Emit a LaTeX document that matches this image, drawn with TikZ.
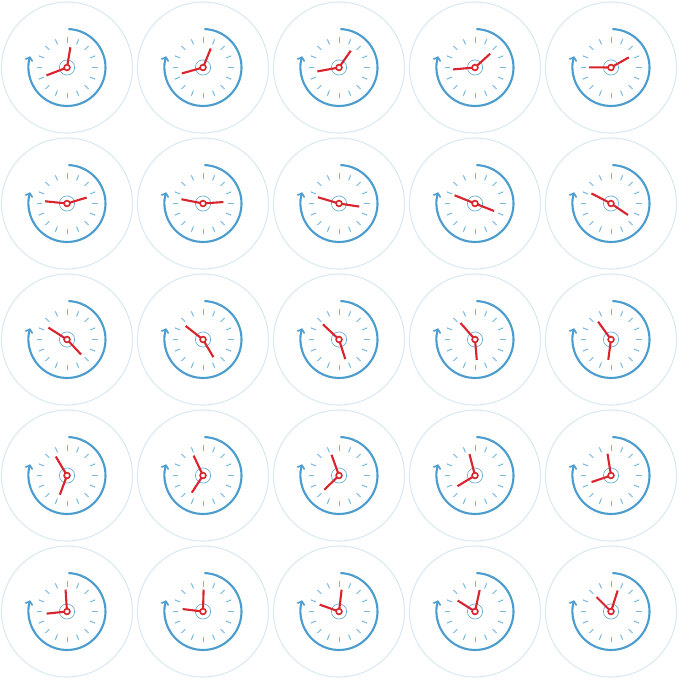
\documentclass[tikz,border=0pt]{standalone}
\usetikzlibrary{arrows.meta}
\definecolor{arcblue}{HTML}{4A9DCE}
\definecolor{tickblue}{HTML}{7AB8DE}
\definecolor{ringblue}{HTML}{DAEAF4}
\definecolor{innerblue}{HTML}{5FA5D2}
\definecolor{handred}{HTML}{D9232D}
\begin{document}
\begin{tikzpicture}[x=1pt,y=1pt,
  outerring/.style={draw=ringblue,line width=1.1pt,fill=white},
  tickstyle/.style={draw=tickblue,line width=1pt},
  arcstyle/.style={draw=arcblue,line width=2.1pt,-{Straight Barb[length=3.2pt,width=7.5pt,line width=1.6pt]}},
  innerring/.style={draw=innerblue,line width=0.6pt},
  handstyle/.style={draw=handred,line width=2.1pt,line cap=butt},
  hubstyle/.style={draw=handred,line width=1.6pt,fill=white}]
\useasboundingbox (0,0) rectangle (680,-680);
\fill[white] (0,0) rectangle (680,-680);
\foreach \rw in {0,...,4}{
  \foreach \cl in {0,...,4}{
    \pgfmathsetmacro{\kk}{\rw*5+\cl}
    \pgfmathsetmacro{\ha}{80.5-12.73*\kk}
    \pgfmathsetmacro{\hb}{201-5.36*\kk}
    \begin{scope}[shift={(67+136*\cl,-67.5-136*\rw)}]
      \draw[outerring] (0,0) circle (65.5);
      \foreach \t in {0,22.5,...,337.5}{
        \draw[tickstyle] (\t:25) -- (\t:30.5);
      }
      \draw[arcstyle] (88:38.5) arc[start angle=88,end angle=-197,radius=38.5];
      \draw[innerring] (0,0) circle (7.6);
      \draw[handstyle] (\ha:3) -- (\ha:20.5);
      \draw[handstyle] (\hb:3) -- (\hb:22);
      \draw[hubstyle] (0,0) circle (2.9);
    \end{scope}
  }
}
\end{tikzpicture}
\end{document}
